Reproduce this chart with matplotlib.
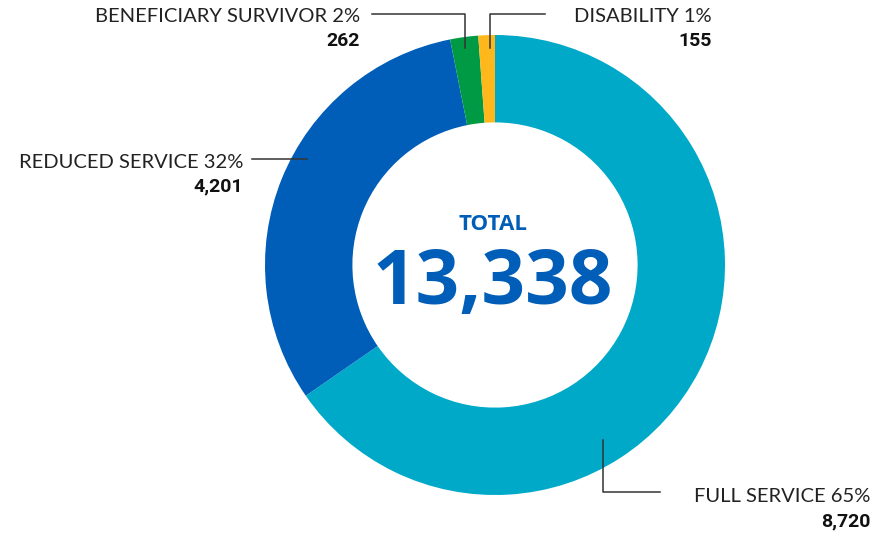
import matplotlib.pyplot as plt

# retirement counts by type
categories = ["FULL SERVICE", "REDUCED SERVICE", "BENEFICIARY SURVIVOR", "DISABILITY"]
counts = [8720, 4201, 262, 155]
percents = [65, 32, 2, 1]
colors = ["#00A9C7", "#005EB8", "#009A44", "#FFB81C"]

W, H = 874, 533
fig = plt.figure(figsize=(W / 100, H / 100), dpi=100)
ax = fig.add_axes([0, 0, 1, 1])

cx, cy, R = 495, H - 265, 230
ax.pie(counts, colors=colors, startangle=90, counterclock=False,
       center=(cx, cy), radius=R, frame=True,
       wedgeprops=dict(width=R * 0.38, linewidth=0))
ax.set_xlim(0, W)
ax.set_ylim(0, H)
ax.axis("off")

total = sum(counts)


def y(v):
    return H - v


def label(i, x, ytop, ha="right"):
    ax.text(x, y(ytop), f"{categories[i]} {percents[i]}%", ha=ha, va="center",
            fontsize=14.5, family="Lato", color="#222222")
    ax.text(x, y(ytop + 24), f"{counts[i]:,}", ha=ha, va="center",
            fontsize=14, family="Roboto", weight="bold", color="#111111")


def leader(xs, ys):
    ax.plot(xs, [y(v) for v in ys], color="#333333", lw=1.1)


label(2, 360, 17)
leader([372, 465, 465], [14, 14, 48])
label(3, 712, 17)
leader([545, 490, 490], [14, 14, 48])
label(1, 243, 162)
leader([252, 307], [159, 159])
label(0, 870, 497)
leader([603, 603, 660], [440, 492, 492])

ax.text(cx - 2, y(230), "TOTAL", ha="center", va="baseline", fontsize=16,
        family="Open Sans", weight="bold", color="#005EB8")
ax.text(cx - 2, y(304), f"{total:,}", ha="center", va="baseline", fontsize=55,
        family="Open Sans", weight="bold", color="#005EB8")

fig.savefig("out.png", dpi=100)
